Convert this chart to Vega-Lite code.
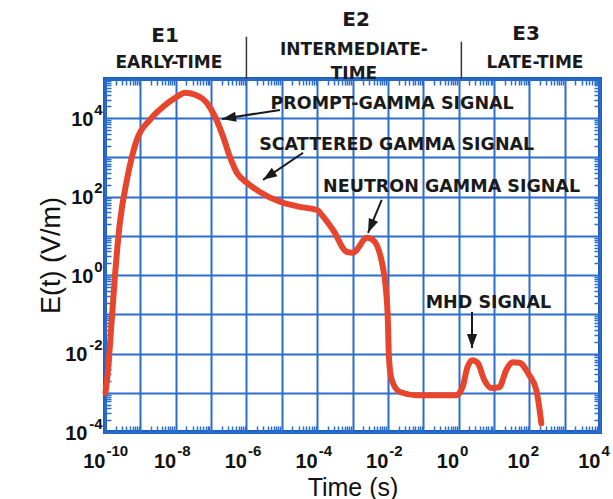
{
  "$schema": "https://vega.github.io/schema/vega-lite/v6.json",
  "width": 495,
  "height": 353,
  "autosize": {"type": "none"},
  "padding": {"left": 105, "top": 79, "right": 13, "bottom": 67},
  "background": "white",
  "config": {
    "view": {"stroke": "#1d5fbd", "strokeWidth": 4},
    "font": "Liberation Sans"
  },
  "datasets": {
    "curve": [
      {"t": 1.03e-10, "e": 1.0e-3},
      {"t": 1.2e-10, "e": 3.4e-3},
      {"t": 1.48e-10, "e": 0.04},
      {"t": 1.9e-10, "e": 0.89},
      {"t": 2.63e-10, "e": 21.4},
      {"t": 4.17e-10, "e": 269},
      {"t": 7.94e-10, "e": 2818},
      {"t": 1.86e-9, "e": 9120},
      {"t": 4.37e-9, "e": 19500},
      {"t": 1.1e-8, "e": 35500},
      {"t": 1.82e-8, "e": 44700},
      {"t": 3.55e-8, "e": 39800},
      {"t": 7.6e-8, "e": 24500},
      {"t": 1.29e-7, "e": 11000},
      {"t": 2.19e-7, "e": 3390},
      {"t": 3.39e-7, "e": 1047},
      {"t": 5.37e-7, "e": 407},
      {"t": 1.05e-6, "e": 224},
      {"t": 2.4e-6, "e": 132},
      {"t": 8.9e-6, "e": 74},
      {"t": 3.24e-5, "e": 55},
      {"t": 1e-4, "e": 45.7},
      {"t": 1.48e-4, "e": 30.9},
      {"t": 2.82e-4, "e": 14.1},
      {"t": 6.9e-4, "e": 3.9},
      {"t": 1.02e-3, "e": 3.7},
      {"t": 2.57e-3, "e": 8.9},
      {"t": 3.8e-3, "e": 7.9},
      {"t": 7.2e-3, "e": 1.62},
      {"t": 8.71e-3, "e": 0.49},
      {"t": 1.0e-2, "e": 0.071},
      {"t": 1.07e-2, "e": 8.1e-3},
      {"t": 1.29e-2, "e": 2.1e-3},
      {"t": 2.19e-2, "e": 1.05e-3},
      {"t": 6.61e-2, "e": 8.7e-4},
      {"t": 0.871, "e": 8.7e-4},
      {"t": 1.29, "e": 1.38e-3},
      {"t": 1.78, "e": 4.5e-3},
      {"t": 2.45, "e": 6.8e-3},
      {"t": 3.47, "e": 5.8e-3},
      {"t": 5.37, "e": 2.1e-3},
      {"t": 8.51, "e": 1.32e-3},
      {"t": 14.1, "e": 1.38e-3},
      {"t": 22.4, "e": 3.8e-3},
      {"t": 33.1, "e": 6.0e-3},
      {"t": 52.5, "e": 5.8e-3},
      {"t": 100, "e": 2.8e-3},
      {"t": 158, "e": 1.17e-3},
      {"t": 191, "e": 4.3e-4},
      {"t": 219, "e": 1.66e-4}
    ],
    "notes": [
      {"label": "PROMPT-GAMMA SIGNAL", "t": 1.32e-2, "e": 23400},
      {"label": "SCATTERED GAMMA SIGNAL", "t": 0.0178, "e": 2080},
      {"label": "NEUTRON GAMMA SIGNAL", "t": 0.635, "e": 175},
      {"label": "MHD SIGNAL", "t": 7.0, "e": 0.194}
    ],
    "arrows": [
      {"name": "prompt", "t1": 8.9e-6, "e1": 16300, "t2": 2.04e-7, "e2": 9600},
      {"name": "scattered", "t1": 4.0e-5, "e1": 1320, "t2": 2.95e-6, "e2": 269},
      {"name": "neutron", "t1": 6.7e-3, "e1": 83, "t2": 2.75e-3, "e2": 12.0},
      {"name": "mhd", "t1": 2.4, "e1": 0.115, "t2": 2.4, "e2": 0.0139}
    ],
    "headBig": [
      {"label": "E1", "t": 5.0e-9, "e": 1.26e6},
      {"label": "E2", "t": 1.26e-3, "e": 3.2e6},
      {"label": "E3", "t": 81, "e": 1.4e6}
    ],
    "headSmall": [
      {"label": "EARLY-TIME", "t": 6.4e-9, "e": 2.6e5},
      {"label": "INTERMEDIATE-", "t": 1.1e-3, "e": 5.5e5},
      {"label": "TIME", "t": 1.1e-3, "e": 1.35e5},
      {"label": "LATE-TIME", "t": 145, "e": 2.6e5}
    ],
    "seps": [
      {"t": 1e-6, "e1": 1.2e6, "e2": 1e5},
      {"t": 1.2, "e1": 8.9e5, "e2": 1e5}
    ]
  },
  "layer": [
    {
      "data": {"name": "curve"},
      "mark": {"type": "line", "color": "#e8452d", "strokeWidth": 6, "interpolate": "monotone", "strokeCap": "round", "strokeJoin": "round"},
      "encoding": {
        "x": {
          "field": "t", "type": "quantitative",
          "scale": {"type": "log", "domain": [1e-10, 1e4], "nice": false},
          "axis": {
            "orient": "bottom",
            "values": [1e-10,2e-10,3e-10,4e-10,5e-10,6e-10,7e-10,8e-10,9e-10,1e-9,2e-9,3e-9,4e-9,5e-9,6e-9,7e-9,8e-9,9e-9,1e-8,2e-8,3e-8,4e-8,5e-8,6e-8,7e-8,8e-8,9e-8,1e-7,2e-7,3e-7,4e-7,5e-7,6e-7,7e-7,8e-7,9e-7,1e-6,2e-6,3e-6,4e-6,5e-6,6e-6,7e-6,8e-6,9e-6,1e-5,2e-5,3e-5,4e-5,5e-5,6e-5,7e-5,8e-5,9e-5,1e-4,2e-4,3e-4,4e-4,5e-4,6e-4,7e-4,8e-4,9e-4,1e-3,2e-3,3e-3,4e-3,5e-3,6e-3,7e-3,8e-3,9e-3,1e-2,2e-2,3e-2,4e-2,5e-2,6e-2,7e-2,8e-2,9e-2,0.1,0.2,0.3,0.4,0.5,0.6,0.7,0.8,0.9,1,2,3,4,5,6,7,8,9,10,20,30,40,50,60,70,80,90,100,200,300,400,500,600,700,800,900,1000,2000,3000,4000,5000,6000,7000,8000,9000,10000],
            "labels": false, "domain": false, "title": null,
            "grid": true, "gridColor": "#2b6dcc", "gridWidth": 2,
            "gridOpacity": {"condition": {"test": "abs(log(datum.value)/LN10 - round(log(datum.value)/LN10)) < 0.01", "value": 1}, "value": 0},
            "ticks": true, "tickColor": "#2b6dcc", "tickWidth": 1.5,
            "tickSize": {"condition": {"test": "abs(log(datum.value)/LN10 - round(log(datum.value)/LN10)) < 0.01", "value": 0}, "value": -6}
          }
        },
        "y": {
          "field": "e", "type": "quantitative",
          "scale": {"type": "log", "domain": [1e-4, 1e5], "nice": false},
          "axis": {
            "orient": "left",
            "values": [1e-4,2e-4,3e-4,4e-4,5e-4,6e-4,7e-4,8e-4,9e-4,1e-3,2e-3,3e-3,4e-3,5e-3,6e-3,7e-3,8e-3,9e-3,1e-2,2e-2,3e-2,4e-2,5e-2,6e-2,7e-2,8e-2,9e-2,0.1,0.2,0.3,0.4,0.5,0.6,0.7,0.8,0.9,1,2,3,4,5,6,7,8,9,10,20,30,40,50,60,70,80,90,100,200,300,400,500,600,700,800,900,1000,2000,3000,4000,5000,6000,7000,8000,9000,10000,20000,30000,40000,50000,60000,70000,80000,90000,100000],
            "labels": false, "domain": false, "title": null,
            "grid": true, "gridColor": "#2b6dcc", "gridWidth": 2,
            "gridOpacity": {"condition": {"test": "abs(log(datum.value)/LN10 - round(log(datum.value)/LN10)) < 0.01", "value": 1}, "value": 0},
            "ticks": true, "tickColor": "#2b6dcc", "tickWidth": 1.5,
            "tickSize": {"condition": {"test": "abs(log(datum.value)/LN10 - round(log(datum.value)/LN10)) < 0.01", "value": 0}, "value": -6}
          }
        }
      }
    },
    {
      "data": {"name": "curve"},
      "mark": {"type": "point", "opacity": 0},
      "encoding": {
        "x": {
          "field": "t", "type": "quantitative", "scale": {"type": "log"},
          "axis": {
            "orient": "bottom", "values": [1e-10, 1e-8, 1e-6, 1e-4, 1e-2, 1, 100, 10000],
            "labelExpr": "'10'", "labelAlign": "right", "labelBaseline": "top",
            "labelFontSize": 20, "labelFontWeight": "bold", "labelColor": "#111",
            "labelPadding": 19, "labelFlush": false, "labelOverlap": false, "labelBound": false,
            "ticks": false, "domain": false, "grid": false,
            "title": "Time (s)", "titleFontSize": 25, "titleFontWeight": "normal", "titleColor": "#111",
            "titleY": 55, "titleBaseline": "middle"
          }
        },
        "y": {
          "field": "e", "type": "quantitative", "scale": {"type": "log"},
          "axis": {
            "orient": "left", "values": [1e-4, 1e-2, 1, 100, 10000],
            "labelExpr": "'10'", "labelAlign": "right", "labelBaseline": "middle",
            "labelFontSize": 20, "labelFontWeight": "bold", "labelColor": "#111",
            "labelPadding": {"condition": {"test": "datum.value < 0.5", "value": 18}, "value": 12},
            "labelOffset": 1, "labelFlush": false, "labelOverlap": false, "labelBound": false,
            "ticks": false, "domain": false, "grid": false,
            "title": "E(t) (V/m)", "titleFontSize": 27, "titleFontWeight": "normal", "titleColor": "#111",
            "titleX": -54, "titleY": 176, "titleBaseline": "middle", "titleAngle": -90
          }
        }
      }
    },
    {
      "data": {"name": "curve"},
      "mark": {"type": "point", "opacity": 0},
      "encoding": {
        "x": {
          "field": "t", "type": "quantitative", "scale": {"type": "log"},
          "axis": {
            "orient": "bottom", "values": [1e-10, 1e-8, 1e-6, 1e-4, 1e-2, 1, 100, 10000],
            "labelExpr": "'' + round(log(datum.value)/LN10)", "labelAlign": "left", "labelBaseline": "top",
            "labelFontSize": 15, "labelFontWeight": "bold", "labelColor": "#111",
            "labelPadding": 11, "labelOffset": 1, "labelFlush": false, "labelOverlap": false, "labelBound": false,
            "ticks": false, "domain": false, "grid": false, "title": null
          }
        },
        "y": {
          "field": "e", "type": "quantitative", "scale": {"type": "log"},
          "axis": {
            "orient": "left", "values": [1e-4, 1e-2, 1, 100, 10000],
            "labelExpr": "'' + round(log(datum.value)/LN10)", "labelAlign": "right", "labelBaseline": "middle",
            "labelFontSize": 15, "labelFontWeight": "bold", "labelColor": "#111",
            "labelPadding": 3, "labelOffset": -9, "labelFlush": false, "labelOverlap": false, "labelBound": false,
            "ticks": false, "domain": false, "grid": false, "title": null
          }
        }
      }
    },
    {
      "data": {"name": "curve"},
      "mark": {"type": "point", "opacity": 0},
      "encoding": {
        "x": {
          "field": "t", "type": "quantitative", "scale": {"type": "log"},
          "axis": {
            "orient": "top",
            "values": [2e-10,3e-10,4e-10,5e-10,6e-10,7e-10,8e-10,9e-10,2e-9,3e-9,4e-9,5e-9,6e-9,7e-9,8e-9,9e-9,2e-8,3e-8,4e-8,5e-8,6e-8,7e-8,8e-8,9e-8,2e-7,3e-7,4e-7,5e-7,6e-7,7e-7,8e-7,9e-7,2e-6,3e-6,4e-6,5e-6,6e-6,7e-6,8e-6,9e-6,2e-5,3e-5,4e-5,5e-5,6e-5,7e-5,8e-5,9e-5,2e-4,3e-4,4e-4,5e-4,6e-4,7e-4,8e-4,9e-4,2e-3,3e-3,4e-3,5e-3,6e-3,7e-3,8e-3,9e-3,2e-2,3e-2,4e-2,5e-2,6e-2,7e-2,8e-2,9e-2,0.2,0.3,0.4,0.5,0.6,0.7,0.8,0.9,2,3,4,5,6,7,8,9,20,30,40,50,60,70,80,90,200,300,400,500,600,700,800,900,2000,3000,4000,5000,6000,7000,8000,9000],
            "labels": false, "domain": false, "grid": false, "title": null,
            "ticks": true, "tickColor": "#2b6dcc", "tickWidth": 1.5, "tickSize": -6
          }
        },
        "y": {
          "field": "e", "type": "quantitative", "scale": {"type": "log"},
          "axis": {
            "orient": "right",
            "values": [2e-4,3e-4,4e-4,5e-4,6e-4,7e-4,8e-4,9e-4,2e-3,3e-3,4e-3,5e-3,6e-3,7e-3,8e-3,9e-3,2e-2,3e-2,4e-2,5e-2,6e-2,7e-2,8e-2,9e-2,0.2,0.3,0.4,0.5,0.6,0.7,0.8,0.9,2,3,4,5,6,7,8,9,20,30,40,50,60,70,80,90,200,300,400,500,600,700,800,900,2000,3000,4000,5000,6000,7000,8000,9000,20000,30000,40000,50000,60000,70000,80000,90000],
            "labels": false, "domain": false, "grid": false, "title": null,
            "ticks": true, "tickColor": "#2b6dcc", "tickWidth": 1.5, "tickSize": -6
          }
        }
      }
    },
    {
      "data": {"name": "seps"},
      "mark": {"type": "rule", "color": "#333333", "strokeWidth": 1.5},
      "encoding": {
        "x": {"field": "t", "type": "quantitative", "scale": {"type": "log"}, "axis": null},
        "y": {"field": "e1", "type": "quantitative", "scale": {"type": "log"}, "axis": null},
        "y2": {"field": "e2"}
      }
    },
    {
      "data": {"name": "arrows"},
      "mark": {"type": "rule", "color": "#1a1a1a", "strokeWidth": 2},
      "encoding": {
        "x": {"field": "t1", "type": "quantitative", "scale": {"type": "log"}, "axis": null},
        "y": {"field": "e1", "type": "quantitative", "scale": {"type": "log"}, "axis": null},
        "x2": {"field": "t2"},
        "y2": {"field": "e2"}
      }
    },
    {
      "data": {"name": "arrows"},
      "transform": [{"filter": "datum.name == 'prompt'"}],
      "mark": {"type": "point", "shape": "M0,0L0.36,1L-0.36,1Z", "size": 784, "filled": true, "color": "#1a1a1a", "opacity": 1, "angle": 261},
      "encoding": {
        "x": {"field": "t2", "type": "quantitative", "scale": {"type": "log"}, "axis": null},
        "y": {"field": "e2", "type": "quantitative", "scale": {"type": "log"}, "axis": null}
      }
    },
    {
      "data": {"name": "arrows"},
      "transform": [{"filter": "datum.name == 'scattered'"}],
      "mark": {"type": "point", "shape": "M0,0L0.36,1L-0.36,1Z", "size": 784, "filled": true, "color": "#1a1a1a", "opacity": 1, "angle": 236},
      "encoding": {
        "x": {"field": "t2", "type": "quantitative", "scale": {"type": "log"}, "axis": null},
        "y": {"field": "e2", "type": "quantitative", "scale": {"type": "log"}, "axis": null}
      }
    },
    {
      "data": {"name": "arrows"},
      "transform": [{"filter": "datum.name == 'neutron'"}],
      "mark": {"type": "point", "shape": "M0,0L0.36,1L-0.36,1Z", "size": 784, "filled": true, "color": "#1a1a1a", "opacity": 1, "angle": 203},
      "encoding": {
        "x": {"field": "t2", "type": "quantitative", "scale": {"type": "log"}, "axis": null},
        "y": {"field": "e2", "type": "quantitative", "scale": {"type": "log"}, "axis": null}
      }
    },
    {
      "data": {"name": "arrows"},
      "transform": [{"filter": "datum.name == 'mhd'"}],
      "mark": {"type": "point", "shape": "M0,0L0.36,1L-0.36,1Z", "size": 784, "filled": true, "color": "#1a1a1a", "opacity": 1, "angle": 180},
      "encoding": {
        "x": {"field": "t2", "type": "quantitative", "scale": {"type": "log"}, "axis": null},
        "y": {"field": "e2", "type": "quantitative", "scale": {"type": "log"}, "axis": null}
      }
    },
    {
      "data": {"name": "notes"},
      "mark": {"type": "text", "font": "DejaVu Sans", "fontWeight": "bold", "fontSize": 17.5, "color": "#1a1a1a", "align": "center", "baseline": "middle"},
      "encoding": {
        "x": {"field": "t", "type": "quantitative", "scale": {"type": "log"}, "axis": null},
        "y": {"field": "e", "type": "quantitative", "scale": {"type": "log"}, "axis": null},
        "text": {"field": "label"}
      }
    },
    {
      "data": {"name": "headBig"},
      "mark": {"type": "text", "font": "DejaVu Sans", "fontWeight": "bold", "fontSize": 20, "color": "#1a1a1a", "align": "center", "baseline": "middle"},
      "encoding": {
        "x": {"field": "t", "type": "quantitative", "scale": {"type": "log"}, "axis": null},
        "y": {"field": "e", "type": "quantitative", "scale": {"type": "log"}, "axis": null},
        "text": {"field": "label"}
      }
    },
    {
      "data": {"name": "headSmall"},
      "mark": {"type": "text", "font": "DejaVu Sans", "fontWeight": "bold", "fontSize": 17, "color": "#1a1a1a", "align": "center", "baseline": "middle"},
      "encoding": {
        "x": {"field": "t", "type": "quantitative", "scale": {"type": "log"}, "axis": null},
        "y": {"field": "e", "type": "quantitative", "scale": {"type": "log"}, "axis": null},
        "text": {"field": "label"}
      }
    }
  ],
  "resolve": {"axis": {"x": "independent", "y": "independent"}}
}
